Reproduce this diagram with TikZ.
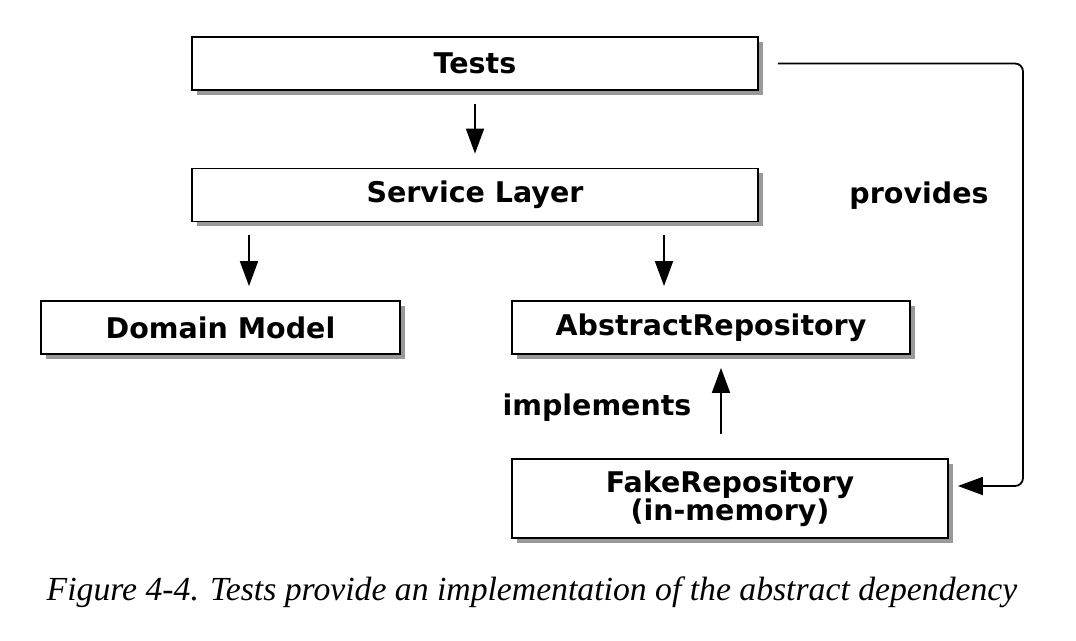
\documentclass[tikz,border=0pt]{standalone}
\usepackage{fontspec}
\setmainfont{DejaVu Sans}
\newfontfamily\capfont{Liberation Serif}
\usetikzlibrary{arrows.meta,shadows}
\begin{document}
\begin{tikzpicture}[x=1pt,y=-1pt,
  box/.style={draw, line width=1.8pt, fill=white, font=\fontsize{28.5}{28}\selectfont\bfseries,
    align=center, inner sep=0pt,
    drop shadow={shadow xshift=4.5pt, shadow yshift=-4.5pt, fill=black!40, opacity=1}},
  arr/.style={line width=1.8pt, -{Triangle[length=25pt,width=18pt]}},
  lbl/.style={font=\fontsize{28.5}{28}\selectfont\bfseries}]
\useasboundingbox (0,0) rectangle (1076,640);
\coordinate (dm) at (249,0);
\coordinate (ar) at (664,0);
\coordinate (im) at (721,0);
\coordinate (p) at (1023,486);

\node[box, minimum width=566pt, minimum height=53pt] (tests) at (475,63.5) {Tests};
\node[box, minimum width=566pt, minimum height=53pt] (service) at (475,195) {Service Layer};
\node[box, minimum width=359pt, minimum height=53pt] (domain) at (220.5,327.5) {Domain Model};
\node[box, minimum width=398pt, minimum height=53pt] (abstract) at (711,327.5) {AbstractRepository};
\node[box, minimum width=436pt, minimum height=79pt] (fake) at (730,498.5) {FakeRepository\\(in-memory)};

\draw[arr, shorten <=13pt, shorten >=14pt] (tests.south) -- (service.north);
\draw[arr, shorten <=13pt, shorten >=14pt] (service.south -| dm) -- (domain.north -| dm);
\draw[arr, shorten <=13pt, shorten >=14pt] (service.south -| ar) -- (abstract.north -| ar);
\draw[arr, shorten <=24pt, shorten >=13pt] (fake.north -| im) -- (abstract.south -| im);
\draw[arr, rounded corners=8pt] ([xshift=19pt]tests.east) -| (p) -- ([xshift=9pt]fake.east |- p);

\node[lbl] (provides) at (919,196) {provides};
\node[lbl] (implements) at (597,408) {implements};

% caption
\node[font=\capfont\itshape\fontsize{33.7}{38}\selectfont] (caption) at (532,592)
  {Figure 4-4. Tests provide an implementation of the abstract dependency};
\end{tikzpicture}
\end{document}
